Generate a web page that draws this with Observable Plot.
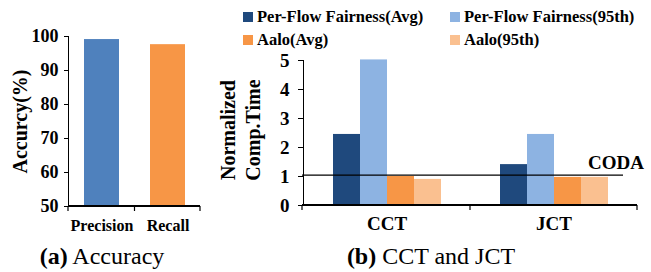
<!DOCTYPE html>
<html><head><meta charset="utf-8">
<style>
  html, body { margin: 0; padding: 0; background: #fff; }
  #root { position: relative; width: 651px; height: 272px; font-family: "Liberation Serif", "Times New Roman", serif; color: #000; overflow: hidden; }
  .abs { position: absolute; }
  .legend { position: absolute; font-weight: bold; font-size: 16.5px; white-space: nowrap; display: flex; align-items: center; }
  .legend i { display: inline-block; width: 10px; height: 10px; margin-right: 4px; }
  .cap { position: absolute; font-size: 24px; white-space: nowrap; transform: translateX(-50%); }
  svg { overflow: visible; }
</style>
</head><body>
<div id="root"></div>
<script src="https://cdn.jsdelivr.net/npm/d3@7"></script>
<script src="https://cdn.jsdelivr.net/npm/@observablehq/plot@0.6"></script>
<script>
// ---- Data: (a) Accuracy ----
const accCategories = ["Precision", "Recall"];
const accValues = [99.1, 97.6];
const accColors = ["#4F81BD", "#F79646"];
const accTicks = [50, 60, 70, 80, 90, 100];
const accTitle = "Accurcy(%)";

// ---- Data: (b) CCT and JCT ----
const metrics = ["CCT", "JCT"];
const seriesNames = ["Per-Flow Fairness(Avg)", "Per-Flow Fairness(95th)", "Aalo(Avg)", "Aalo(95th)"];
const seriesColors = ["#1F497D", "#8DB3E2", "#F79646", "#FAC090"];
const cctValues = [2.45, 5.02, 1.0, 0.9];
const jctValues = [1.41, 2.45, 0.97, 0.97];
const timeTicks = [0, 1, 2, 3, 4, 5];
const timeTitle = "Normalized\nComp.Time";
const codaValue = 1.03;
const codaLabel = "CODA";

const root = document.getElementById("root");
const font = {fontFamily: "Liberation Serif, Times New Roman, serif"};

// x-axis baseline with ticks at band boundaries, plus optional reference line (uses the scales)
function bandAxis(scaleName, yValue, len, facet, ref) {
  return Plot.frame({
    facet,
    render(index, scales) {
      const s = scales[scaleName];
      const y0 = scales.y(yValue);
      const dom = s.domain(), bw = s.bandwidth(), r = s.range();
      const xs = [r[0]];
      for (let i = 1; i < dom.length; ++i) xs.push((s(dom[i - 1]) + bw + s(dom[i])) / 2);
      xs.push(r[1]);
      const g = d3.create("svg:g");
      const ticks = g.append("g").attr("stroke", "black").attr("stroke-width", 1.2);
      for (const x of xs) ticks.append("line").attr("x1", x).attr("x2", x).attr("y1", y0).attr("y2", y0 + len);
      g.append("line").attr("stroke", "black").attr("stroke-width", 2)
        .attr("x1", r[0]).attr("x2", r[1]).attr("y1", y0).attr("y2", y0);
      if (ref) {
        const yr = scales.y(ref.value);
        g.append("line").attr("stroke", "black").attr("stroke-width", 1.2)
          .attr("x1", r[0]).attr("x2", r[1] - ref.inset).attr("y1", yr).attr("y2", yr);
        g.append("text").attr("x", r[1] + ref.dx).attr("y", yr + ref.dy)
          .attr("text-anchor", "end").attr("font-size", ref.fontSize).attr("font-weight", "bold")
          .attr("fill", "black").text(ref.label);
      }
      return g.node();
    }
  });
}

// ---- Chart (a) ----
const accData = accCategories.map((c, i) => ({category: c, value: accValues[i], color: accColors[i]}));
const chartA = Plot.plot({
  width: 215, height: 240,
  marginTop: 36, marginBottom: 34, marginLeft: 68, marginRight: 15,
  style: {...font, fontSize: "16px", fontWeight: "bold", background: "transparent", overflow: "visible"},
  x: {domain: accCategories, paddingInner: 0.47, paddingOuter: 0.235},
  y: {domain: [50, 100]},
  marks: [
    Plot.barY(accData, {x: "category", y1: 50, y2: "value", fill: "color"}),
    Plot.frame({anchor: "left", strokeWidth: 1}),
    bandAxis("x", 50, 5),
    Plot.axisY({ticks: accTicks, tickSize: 4, tickPadding: 6, label: null, fontSize: 18}),
    Plot.axisX({anchor: "bottom", tickSize: 0, tickPadding: 13, label: null}),
    Plot.text([accTitle], {text: d => d, frameAnchor: "left", textAnchor: "middle", lineAnchor: "middle", rotate: -90, dx: -48, fontSize: 20, fontWeight: "bold"})
  ]
});
chartA.classList.add("abs");
chartA.style.left = "0px"; chartA.style.top = "0px";
root.appendChild(chartA);

// ---- Chart (b) ----
const timeData = [];
metrics.forEach((m, mi) => {
  const vals = mi === 0 ? cctValues : jctValues;
  seriesNames.forEach((s, si) => timeData.push({metric: m, series: s, value: vals[si]}));
});
const chartB = Plot.plot({
  width: 436, height: 195,
  marginTop: 15, marginBottom: 35, marginLeft: 87, marginRight: 14,
  style: {...font, fontSize: "19px", fontWeight: "bold", background: "transparent", overflow: "visible"},
  fx: {domain: metrics, padding: 0},
  x: {domain: seriesNames, paddingInner: 0, paddingOuter: 1.05, axis: null},
  y: {domain: [0, 5]},
  color: {domain: seriesNames, range: seriesColors},
  marks: [
    Plot.barY(timeData, {fx: "metric", x: "series", y: "value", fill: "series"}),
    Plot.frame({anchor: "left", strokeWidth: 1, facet: "super"}),
    bandAxis("fx", 0, 5, "super", {value: codaValue, inset: 14, label: codaLabel, dx: 7, dy: -6, fontSize: 19}),
    Plot.axisY({ticks: timeTicks, tickFormat: d3.format("d"), tickSize: 5, tickPadding: 9, label: null}),
    Plot.axisFx({anchor: "bottom", tickSize: 0, tickPadding: 11, label: null}),
    Plot.text([timeTitle], {facet: "super", text: d => d, frameAnchor: "left", textAnchor: "middle", lineAnchor: "middle", rotate: -90, dx: -64, dy: -3, lineHeight: 1.25, fontSize: 20, fontWeight: "bold"})
  ]
});
chartB.classList.add("abs");
chartB.style.left = "215px"; chartB.style.top = "45px";
root.appendChild(chartB);

// ---- Legend for (b) ----
const legendPos = [[243, 17], [450, 17], [243, 40], [450, 40]];
seriesNames.forEach((s, i) => {
  const d = document.createElement("div");
  d.className = "legend";
  d.style.left = legendPos[i][0] + "px";
  d.style.top = (legendPos[i][1] - 10) + "px";
  d.style.height = "20px";
  d.innerHTML = `<i style="background:${seriesColors[i]}"></i><span>${s}</span>`;
  root.appendChild(d);
});

// ---- Captions ----
const captions = [["(a)", " Accuracy", 102], ["(b)", " CCT and JCT", 431]];
captions.forEach(([b, t, cx]) => {
  const d = document.createElement("div");
  d.className = "cap";
  d.style.left = cx + "px";
  d.style.top = "243px";
  d.innerHTML = `<b>${b}</b>${t}`;
  root.appendChild(d);
});
</script>
</body></html>
